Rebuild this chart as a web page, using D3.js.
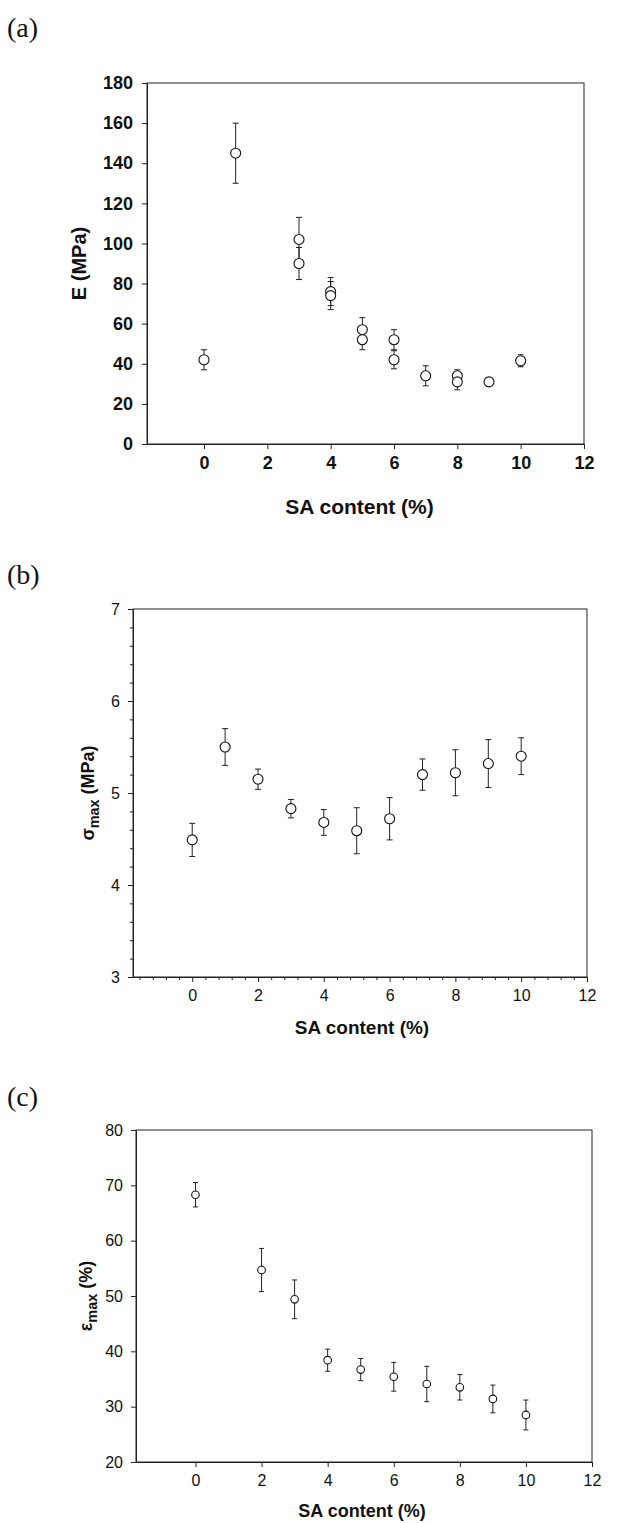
<!DOCTYPE html>
<html>
<head>
<meta charset="utf-8">
<script src="https://cdn.jsdelivr.net/npm/d3@7"></script>
<style>
  body { margin: 0; background: #fff; }
  svg { display: block; }
  text { font-family: "Liberation Sans", Arial, sans-serif; fill: #111; }
  .panel-tag { font-family: "Liberation Serif", "Times New Roman", serif; font-size: 28px; }
</style>
</head>
<body>
<svg id="chart"></svg>
<script>
// x values (SA content, %) shared by all panels
const xTicks = [0, 2, 4, 6, 8, 10, 12]

// (a) elastic modulus E (MPa) - two specimens at some contents
const saA = [0, 1, 3, 3, 4, 4, 5, 5, 6, 6, 7, 8, 8, 9, 10]
const modulusE = [42, 145, 102, 90, 76, 74, 57, 52, 52, 42, 34, 34, 31, 31, 41.5]
const modulusErr = [5, 15, 11, 8, 7, 7, 6, 5, 5, 4.5, 5, 3, 4, 1, 3]
const yTicksA = [0, 20, 40, 60, 80, 100, 120, 140, 160, 180]

// (b) maximum stress (MPa)
const saB = [0, 1, 2, 3, 4, 5, 6, 7, 8, 9, 10]
const stressMax = [4.49, 5.5, 5.15, 4.83, 4.68, 4.59, 4.72, 5.2, 5.22, 5.32, 5.4]
const stressErr = [0.18, 0.2, 0.11, 0.1, 0.14, 0.25, 0.23, 0.17, 0.25, 0.26, 0.2]
const yTicksB = [3, 4, 5, 6, 7]

// (c) maximum strain (%)
const saC = [0, 2, 3, 4, 5, 6, 7, 8, 9, 10]
const strainMax = [68.3, 54.7, 49.4, 38.4, 36.7, 35.4, 34.1, 33.5, 31.4, 28.5]
const strainErr = [2.2, 3.9, 3.5, 2, 2, 2.6, 3.2, 2.3, 2.5, 2.7]
const yTicksC = [20, 30, 40, 50, 60, 70, 80]

const width = 622
const height = 1523

const svg = d3.select('#chart')
  .attr('width', width)
  .attr('height', height)

svg.append('rect').attr('width', width).attr('height', height).attr('fill', '#fff')

function drawPanel(opt) {
  const g = svg.append('g')

  const x = d3.scaleLinear().domain([-1.8, 12]).range([opt.left, opt.right])
  const y = d3.scaleLinear().domain(opt.yDomain).range([opt.bottom, opt.top])

  // frame
  g.append('rect')
    .attr('x', opt.left).attr('y', opt.top)
    .attr('width', opt.right - opt.left).attr('height', opt.bottom - opt.top)
    .attr('fill', 'none').attr('stroke', '#222').attr('stroke-width', 1)

  // minor ticks (panel b only)
  if (opt.minor) {
    const mx = d3.range(-1.6, 12.01, 0.4).filter(v => Math.abs(v - Math.round(v / 2) * 2) > 0.05)
    g.append('g').attr('transform', `translate(0,${opt.bottom})`)
      .call(d3.axisBottom(x).tickValues(mx).tickSize(3).tickFormat(''))
      .call(a => a.select('.domain').remove())
    const my = d3.range(opt.yDomain[0], opt.yDomain[1], 0.2).filter(v => Math.abs(v - Math.round(v)) > 0.05)
    g.append('g').attr('transform', `translate(${opt.left},0)`)
      .call(d3.axisLeft(y).tickValues(my).tickSize(3).tickFormat(''))
      .call(a => a.select('.domain').remove())
  }

  const fmt = d3.format('d')
  const xAxis = g.append('g').attr('transform', `translate(0,${opt.bottom})`)
    .call(d3.axisBottom(x).tickValues(xTicks).tickFormat(fmt).tickSize(5).tickSizeOuter(0).tickPadding(opt.xPad))
  const yAxis = g.append('g').attr('transform', `translate(${opt.left},0)`)
    .call(d3.axisLeft(y).tickValues(opt.yTicks).tickFormat(fmt).tickSize(5).tickSizeOuter(0).tickPadding(opt.yPad))

  for (const ax of [xAxis, yAxis]) {
    ax.select('.domain').attr('stroke', '#222')
    ax.selectAll('.tick text')
      .attr('font-family', '"Liberation Sans", Arial, sans-serif')
      .attr('font-size', opt.tickFont)
      .attr('font-weight', opt.tickWeight)
      .attr('fill', '#111')
  }
  g.selectAll('.tick line').attr('stroke', '#222')

  // axis titles
  g.append('text')
    .attr('x', (opt.left + opt.right) / 2 + opt.xTitleShift)
    .attr('y', opt.xTitleY)
    .attr('text-anchor', 'middle')
    .attr('font-size', opt.titleFont)
    .attr('font-weight', 'bold')
    .text('SA content (%)')

  const yt = g.append('text')
    .attr('transform', `translate(${opt.yTitleX},${(opt.top + opt.bottom) / 2}) rotate(-90)`)
    .attr('text-anchor', 'middle')
    .attr('font-size', opt.yTitleFont)
    .attr('font-weight', 'bold')
  yt.append('tspan').text(opt.yTitle[0])
  if (opt.yTitle.length > 2) {
    yt.append('tspan').attr('font-size', opt.yTitleFont * 0.8).attr('dy', 5).text(opt.yTitle[1])
    yt.append('tspan').attr('dy', -5).text(opt.yTitle[2])
  }

  // error bars
  const pts = opt.xs.map((v, i) => ({ x: v, y: opt.ys[i], e: opt.errs[i] }))
  const eb = g.append('g').attr('stroke', '#222').attr('stroke-width', 1)
  eb.selectAll('line.bar').data(pts).join('line').attr('class', 'bar')
    .attr('x1', d => x(d.x)).attr('x2', d => x(d.x))
    .attr('y1', d => y(d.y - d.e)).attr('y2', d => y(d.y + d.e))
  eb.selectAll('line.top').data(pts).join('line').attr('class', 'top')
    .attr('x1', d => x(d.x) - opt.cap).attr('x2', d => x(d.x) + opt.cap)
    .attr('y1', d => y(d.y + d.e)).attr('y2', d => y(d.y + d.e))
  eb.selectAll('line.bot').data(pts).join('line').attr('class', 'bot')
    .attr('x1', d => x(d.x) - opt.cap).attr('x2', d => x(d.x) + opt.cap)
    .attr('y1', d => y(d.y - d.e)).attr('y2', d => y(d.y - d.e))

  // markers
  g.append('g').selectAll('circle').data(pts).join('circle')
    .attr('cx', d => x(d.x)).attr('cy', d => y(d.y))
    .attr('r', opt.r)
    .attr('fill', '#fff').attr('stroke', '#111').attr('stroke-width', 1.1)

  svg.append('text').attr('class', 'panel-tag')
    .attr('x', 7).attr('y', opt.tagY).text(opt.tag)
}

drawPanel({
  tag: '(a)', tagY: 37,
  left: 147, right: 584, top: 83, bottom: 444,
  yDomain: [0, 180], yTicks: yTicksA,
  xs: saA, ys: modulusE, errs: modulusErr,
  tickFont: 18, tickWeight: 'bold', xPad: 7, yPad: 9,
  titleFont: 21, yTitleFont: 20, xTitleY: 514, xTitleShift: -6, yTitleX: 86,
  yTitle: ['E (MPa)'],
  r: 5, cap: 3
})

drawPanel({
  tag: '(b)', tagY: 584,
  left: 133, right: 587, top: 609, bottom: 977,
  yDomain: [3, 7], yTicks: yTicksB, minor: true,
  xs: saB, ys: stressMax, errs: stressErr,
  tickFont: 16, tickWeight: 'normal', xPad: 8, yPad: 8,
  titleFont: 19, yTitleFont: 18, xTitleY: 1034, xTitleShift: 2, yTitleX: 94,
  yTitle: ['σ', 'max', ' (MPa)'],
  r: 5, cap: 3
})

drawPanel({
  tag: '(c)', tagY: 1106,
  left: 136, right: 592, top: 1130, bottom: 1462,
  yDomain: [20, 80], yTicks: yTicksC,
  xs: saC, ys: strainMax, errs: strainErr,
  tickFont: 16, tickWeight: 'normal', xPad: 8, yPad: 8,
  titleFont: 18, yTitleFont: 18, xTitleY: 1517, xTitleShift: -2, yTitleX: 92,
  yTitle: ['ε', 'max', ' (%)'],
  r: 3.8, cap: 2.5
})
</script>
</body>
</html>
